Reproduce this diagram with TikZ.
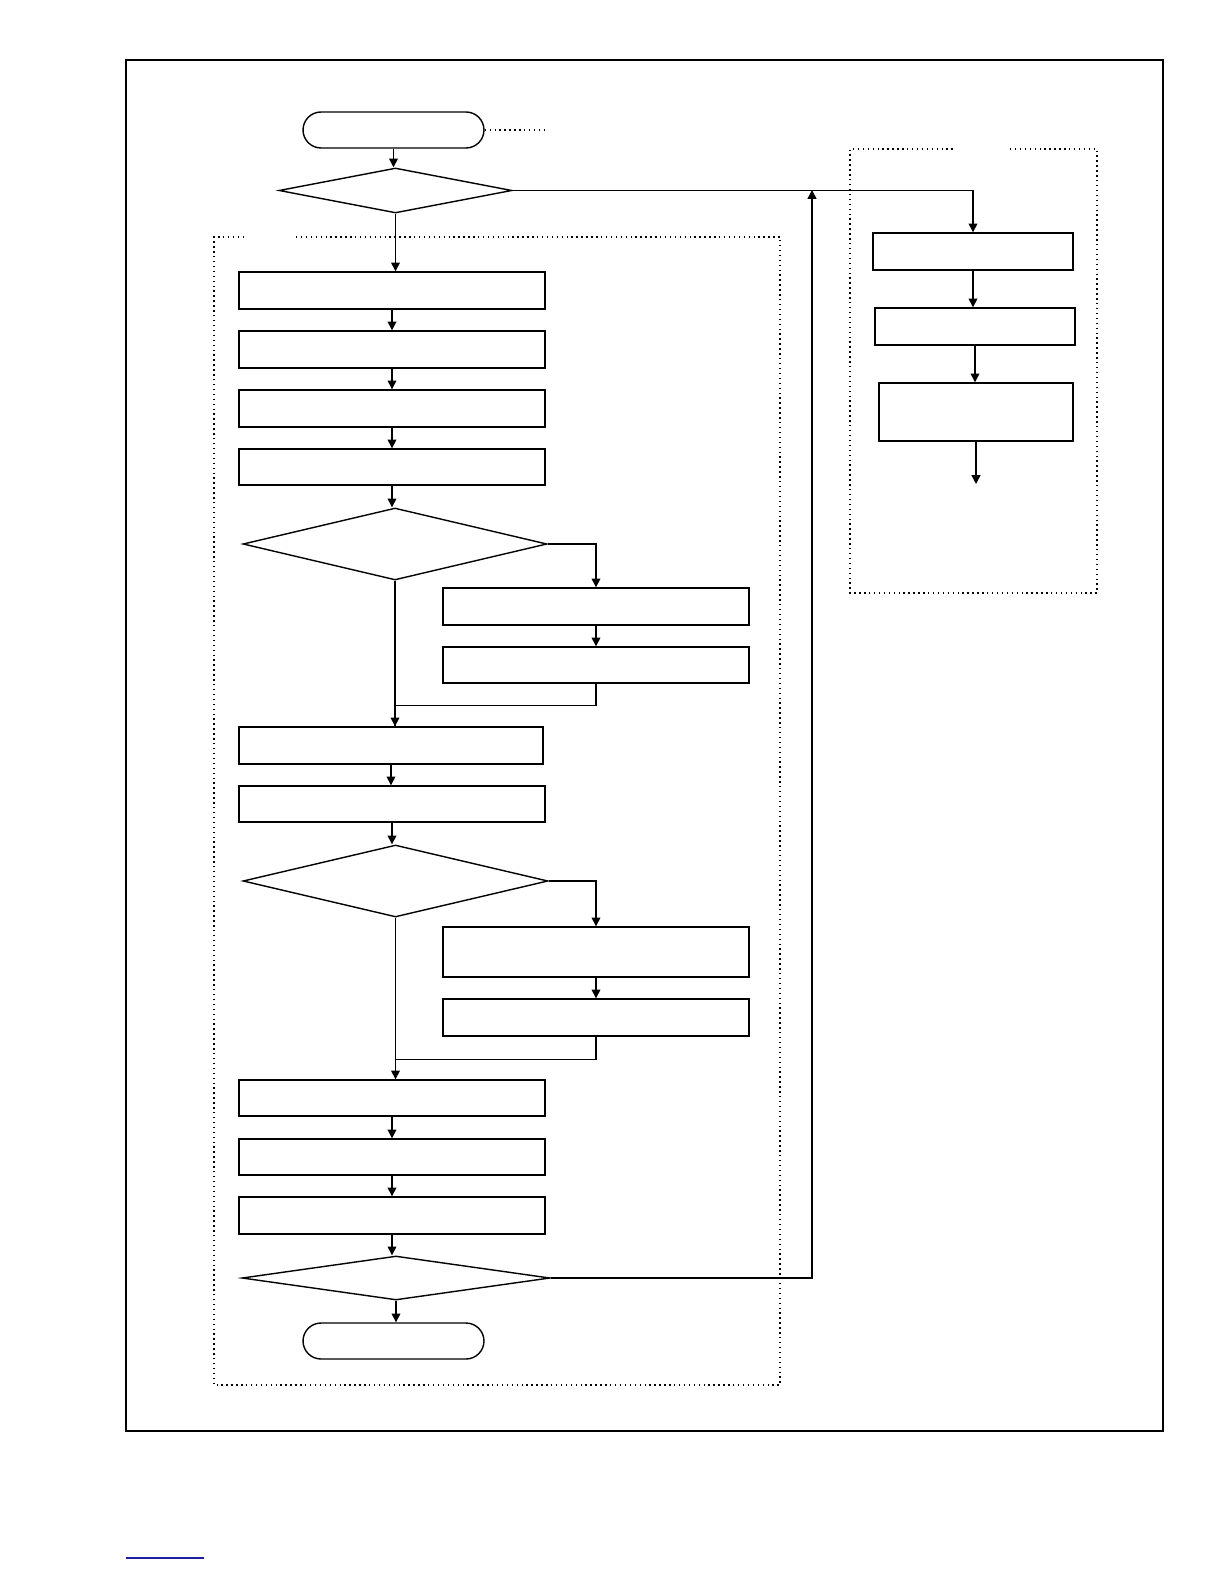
\documentclass[tikz,border=0pt]{standalone}
\usepackage{tikz}
\usetikzlibrary{arrows.meta,positioning,shapes.geometric}
\definecolor{linkblue}{RGB}{30,30,160}

\begin{document}
\begin{tikzpicture}[
    x=0.02cm, y=-0.02cm,
    box/.style={rectangle, draw, line width=0.8pt, inner sep=0pt, minimum width=6.12cm, minimum height=0.74cm},
    term/.style={rectangle, rounded corners=0.36cm, draw, line width=0.8pt, inner sep=0pt, minimum width=3.62cm, minimum height=0.72cm},
    decide/.style={diamond, draw, line width=0.8pt, inner sep=0pt},
    arrow/.style={-{Triangle[length=5pt,width=5pt]}, line width=0.8pt},
    frame/.style={dotted, line width=0.8pt}
]
\useasboundingbox (0,0) rectangle (1224,1584);

% Outer frame and dotted groups
\draw[line width=1.4pt] (126,60) rectangle (1163,1431);
\draw[frame] (296,237) -- (780,237) -- (780,1385) -- (214,1385) -- (214,237) -- (244,237);
\draw[frame] (1010,149) -- (1097,149) -- (1097,593) -- (850,593) -- (850,149) -- (955,149);
\draw[linkblue, line width=1pt] (126,1558) -- (204,1558);

% Main column
\node[term] (start) at (393.5,130) {};
\draw[frame] (start.east) -- ++(62,0);
\node[decide, minimum width=4.66cm, minimum height=0.9cm] (d1) at (395.5,190.5) {};
\node[box] (b1) at (392,290.5) {};
\node[box] (b2) at (392,349.5) {};
\node[box] (b3) at (392,408.5) {};
\node[box, minimum height=0.72cm] (b4) at (392,467) {};
\node[decide, minimum width=6.08cm, minimum height=1.44cm] (d2) at (395,544) {};
\node[box] (s1) at (596,606.5) {};
\node[box, minimum height=0.72cm] (s2) at (596,665) {};
\node[box, minimum width=6.08cm] (b5) at (391,745.5) {};
\node[box, minimum height=0.72cm] (b6) at (392,804) {};
\node[decide, minimum width=6.1cm, minimum height=1.44cm] (d3) at (395.5,881) {};
\node[box, minimum height=1.0cm] (s3) at (596,952) {};
\node[box] (s4) at (596,1017.5) {};
\node[box, minimum height=0.72cm] (b7) at (392,1098) {};
\node[box, minimum height=0.72cm] (b8) at (392,1157) {};
\node[box] (b9) at (392,1215.5) {};
\node[decide, minimum width=6.16cm, minimum height=0.88cm] (d4) at (396,1278) {};
\node[term] (stop) at (393.5,1341) {};

% Right column
\node[box, minimum width=4cm] (r1) at (973,251.5) {};
\node[box, minimum width=4cm] (r2) at (975,326.5) {};
\node[box, minimum width=3.88cm, minimum height=1.16cm] (r3) at (976,412) {};
\coordinate (rend) at (975,484);

% Main flow
\draw[arrow] (start) -- (start |- d1.north);
\draw[arrow] (d1) -- (d1 |- b1.north);
\draw[arrow] (b1) -- (b1 |- b2.north);
\draw[arrow] (b2) -- (b2 |- b3.north);
\draw[arrow] (b3) -- (b3 |- b4.north);
\draw[arrow] (b4) -- (b4 |- d2.north);
\draw[arrow] (d2.east) -| (s1.north);
\draw[arrow] (s1) -- (s1 |- s2.north);
\draw[line width=0.8pt] (d2.south) -- (d2.south |- b5.north);
\draw[arrow] (s2.south) -- ++(0,22) -| (d2.south |- b5.north);
\draw[arrow] (b5) -- (b5 |- b6.north);
\draw[arrow] (b6) -- (b6 |- d3.north);
\draw[arrow] (d3.east) -| (s3.north);
\draw[arrow] (s3) -- (s3 |- s4.north);
\draw[line width=0.8pt] (d3.south) -- (d3.south |- b7.north);
\draw[arrow] (s4.south) -- ++(0,23) -| (d3.south |- b7.north);
\draw[arrow] (b7) -- (b7 |- b8.north);
\draw[arrow] (b8) -- (b8 |- b9.north);
\draw[arrow] (b9) -- (b9 |- d4.north);
\draw[arrow] (d4) -- (d4 |- stop.north);

% Loop back and branch to right column
\draw[arrow] (d4.east) -- (812,1278) -- (812,190);
\draw[arrow] (d1.east) -| (r1.north);
\draw[arrow] (r1) -- (r1 |- r2.north);
\draw[arrow] (r2) -- (r2 |- r3.north);
\draw[arrow] (r3) -- (r3 |- rend);

\end{tikzpicture}
\end{document}
